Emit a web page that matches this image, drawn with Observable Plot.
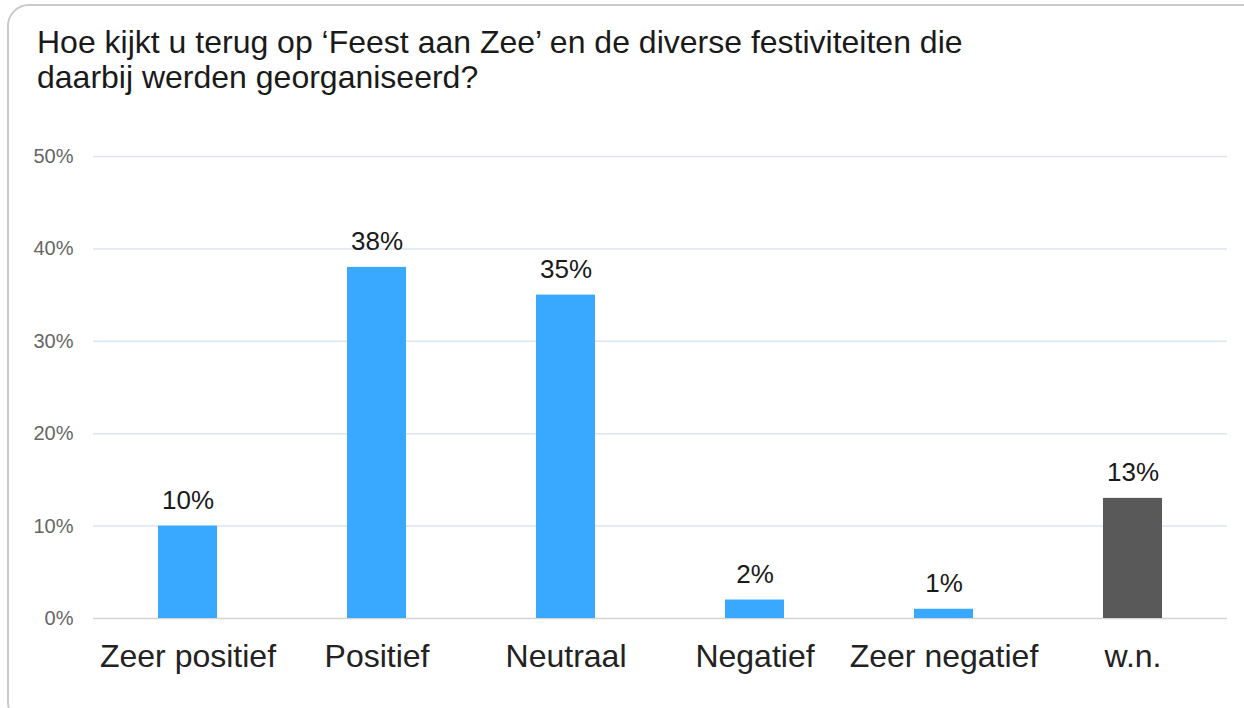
<!DOCTYPE html>
<html><head><meta charset="utf-8">
<script src="https://cdn.jsdelivr.net/npm/d3@7"></script>
<script src="https://cdn.jsdelivr.net/npm/@observablehq/plot@0.6"></script>
<style>
body{margin:0;background:#fff;overflow:hidden}
#wrap{position:relative;width:1244px;height:708px;overflow:hidden;font-family:"Liberation Sans",Arial,sans-serif}
#frame{position:absolute;left:7px;top:4px;width:1260px;height:720px;border:2px solid #cbcbcb;border-radius:22px;box-sizing:border-box}
#title{position:absolute;left:37px;top:25px;font-size:32px;line-height:35px;color:#1a1a1a;z-index:2;white-space:nowrap}
#chart{position:absolute;left:0;top:0}
</style></head>
<body>
<div id="wrap">
  <div id="frame"></div>
  <div id="chart"></div>
  <div id="title">Hoe kijkt u terug op ‘Feest aan Zee’ en de diverse festiviteiten die<br>daarbij werden georganiseerd?</div>
</div>
<script>
const categories = ["Zeer positief", "Positief", "Neutraal", "Negatief", "Zeer negatief", "w.n."];
const values = [10, 38, 35, 2, 1, 13];
const barColors = ["#39a8ff", "#39a8ff", "#39a8ff", "#39a8ff", "#39a8ff", "#595959"];
const yTicks = [0, 10, 20, 30, 40, 50];

const data = categories.map((c, i) => ({category: c, value: values[i]}));

const chart = Plot.plot({
  width: 1244,
  height: 708,
  marginTop: 156,
  marginBottom: 90,
  marginLeft: 93,
  marginRight: 17,
  style: {fontFamily: "Liberation Sans, Arial, sans-serif", background: "transparent", overflow: "visible"},
  x: {domain: categories, paddingInner: 0.688, paddingOuter: 0.344, label: null},
  y: {domain: [0, 50], label: null},
  color: {domain: categories, range: barColors},
  marks: [
    Plot.gridY(yTicks.filter(d => d > 0), {stroke: "#dce5f2", strokeOpacity: 1, strokeWidth: 1.5}),
    Plot.ruleY([0], {stroke: "#d3d3d3", strokeWidth: 1.5}),
    Plot.barY(data, {x: "category", y: "value", fill: "category"}),
    Plot.text(data, {x: "category", y: "value", text: d => d.value + "%", dy: -17, lineAnchor: "bottom", fontSize: 26, fill: "#1a1a1a"}),
    Plot.axisY(yTicks, {tickSize: 0, tickPadding: 20, tickFormat: d => d + "%", fontSize: 20, fill: "#666", label: null}),
    Plot.axisX({tickSize: 0, tickPadding: 26, fontSize: 32, fill: "#222", label: null})
  ]
});
document.getElementById("chart").appendChild(chart);
</script>
</body></html>
